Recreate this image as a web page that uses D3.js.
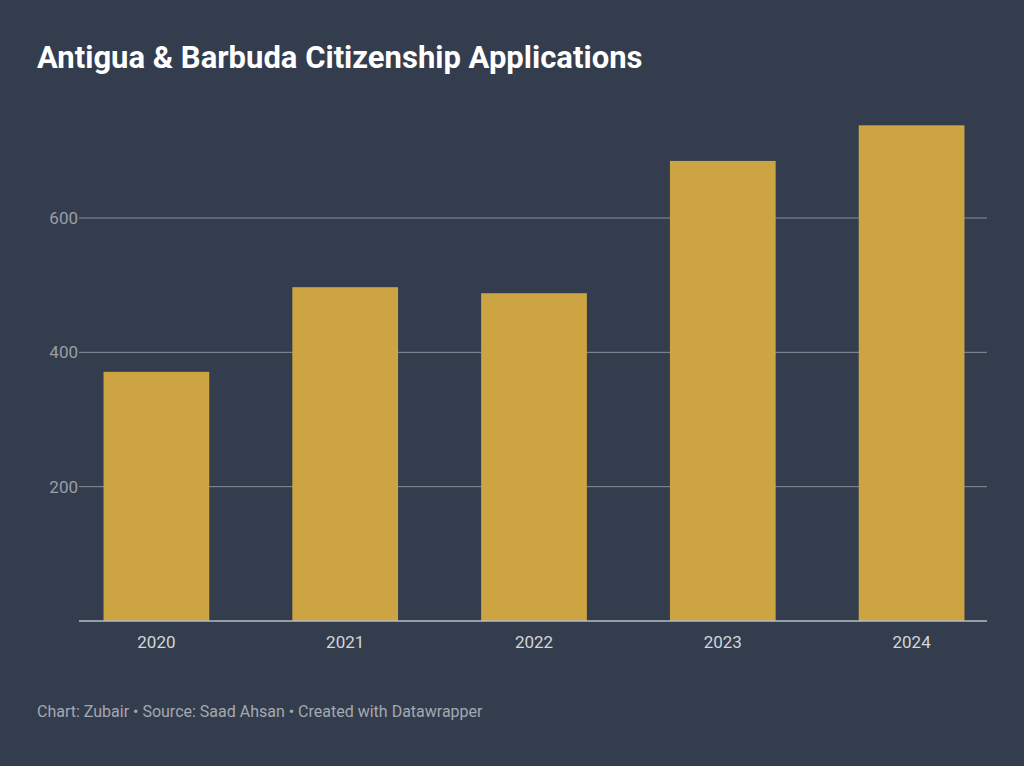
<!DOCTYPE html>
<html>
<head>
<meta charset="utf-8">
<script src="https://cdn.jsdelivr.net/npm/d3@7"></script>
<style>
  body { margin: 0; background: #333d4e; font-family: Roboto, "Noto Sans", sans-serif; }
</style>
</head>
<body>
<script>
// data
const years = ["2020", "2021", "2022", "2023", "2024"];
const applications = [371, 497, 488, 685, 738];
const yTicks = [200, 400, 600];

const width = 1024, height = 766;
const svg = d3.select("body").append("svg")
    .attr("width", width)
    .attr("height", height);

svg.append("rect").attr("width", width).attr("height", height).attr("fill", "#333d4e");

svg.append("text")
    .attr("x", 37).attr("y", 68)
    .attr("fill", "#ffffff")
    .attr("font-size", 31).attr("font-weight", 700)
    .text("Antigua & Barbuda Citizenship Applications");

const xScale = d3.scaleBand()
    .domain(years)
    .range([62, 1006])
    .paddingInner(0.44)
    .paddingOuter(0.22);

const yScale = d3.scaleLinear()
    .domain([0, 600])
    .range([621, 218]);

// gridlines
svg.selectAll(".grid").data(yTicks).enter()
    .append("line")
    .attr("x1", 79).attr("x2", 987)
    .attr("y1", d => yScale(d)).attr("y2", d => yScale(d))
    .attr("stroke", "#8a909a").attr("stroke-width", 1);

svg.selectAll(".ylab").data(yTicks).enter()
    .append("text")
    .attr("x", 78).attr("y", d => yScale(d) + 6)
    .attr("text-anchor", "end")
    .attr("fill", "#9a9fa8").attr("font-size", 17)
    .text(d => d);

svg.selectAll(".bar").data(applications).enter()
    .append("rect")
    .attr("x", (d, i) => xScale(years[i]))
    .attr("y", d => yScale(d))
    .attr("width", xScale.bandwidth())
    .attr("height", d => yScale(0) - yScale(d))
    .attr("fill", "#cca441");

// baseline
svg.append("line")
    .attr("x1", 79).attr("x2", 987)
    .attr("y1", yScale(0)).attr("y2", yScale(0))
    .attr("stroke", "#b8bcc2").attr("stroke-width", 1.5);

svg.selectAll(".xlab").data(years).enter()
    .append("text")
    .attr("x", d => xScale(d) + xScale.bandwidth() / 2)
    .attr("y", 648)
    .attr("text-anchor", "middle")
    .attr("fill", "#d4d6da").attr("font-size", 17)
    .text(d => d);

svg.append("text")
    .attr("x", 37).attr("y", 717)
    .attr("fill", "#a4a9b1").attr("font-size", 16)
    .text("Chart: Zubair • Source: Saad Ahsan • Created with Datawrapper");
</script>
</body>
</html>
